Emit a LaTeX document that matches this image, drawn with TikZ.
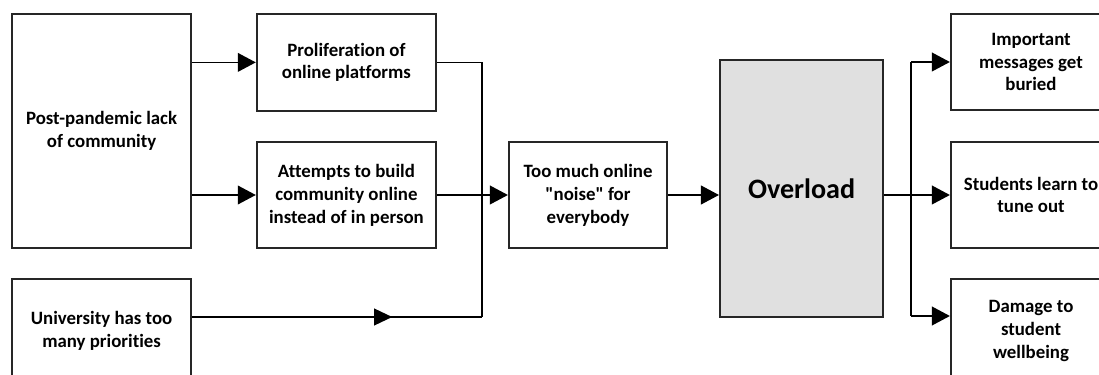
\documentclass[tikz,border=0pt]{standalone}
\usepackage{fontspec}
\setmainfont{Carlito}[Ligatures={TeXOff,CommonOff}]
\usetikzlibrary{arrows.meta,decorations.markings}

\begin{document}
\begin{tikzpicture}[
        box/.style={draw=black!85, line width=1.6pt, align=center, inner sep=2pt,
            font=\bfseries\fontsize{13.4}{16.3}\selectfont},
        arr/.style={line width=1pt, -{Triangle[length=0.45cm, width=0.47cm]}},
        wire/.style={line width=1pt},
        midarr/.style={line width=1pt, postaction={decorate},
            decoration={markings, mark=at position #1 with {\arrow{Triangle[length=0.45cm, width=0.42cm]}}}}
    ]
                \clip (0,0) rectangle (27.475,9.35);

                % Draw the cause boxes
                \node[box, minimum width=4.475cm, minimum height=5.85cm] (lack) at (2.54,6.075) {Post-pandemic lack\\of community};
                \node[box, minimum width=4.475cm, minimum height=2.6cm] (univ) at (2.54,1.075) {University has too\\many priorities};

                \node[box, minimum width=4.475cm, minimum height=2.425cm] (prolif) at (8.66,7.79) {Proliferation of\\online platforms};
                \node[box, minimum width=4.475cm, minimum height=2.65cm] (attempts) at (8.66,4.475) {Attempts to build\\community online\\instead of in person};

                % Draw the middle boxes
                \node[box, minimum width=3.95cm, minimum height=2.65cm] (noise) at (14.7,4.475) {Too much online\\"noise" for\\everybody};
                \node[box, fill=black!12, minimum width=4.075cm, minimum height=6.425cm,
                    font=\bfseries\fontsize{20}{24}\selectfont] (overload) at (20.04,4.6375) {Overload};

                % Draw the effect boxes
                \node[box, minimum width=4cm, minimum height=2.4cm] (buried) at (25.775,7.8) {Important\\messages get\\buried};
                \node[box, minimum width=4cm, minimum height=2.65cm] (tune) at (25.775,4.475) {Students learn to\\tune out};
                \node[box, minimum width=4cm, minimum height=2.6cm] (damage) at (25.775,1.075) {Damage to\\student\\wellbeing};

                % Joints of the connectors
                \coordinate (join) at (12.05,1.425);
                \coordinate (split) at (22.775,1.45);

                % Draw edges from the causes
                \draw[arr] (lack.east |- prolif) -- (prolif);
                \draw[arr] (lack.east |- attempts) -- (attempts);
                \draw[midarr=0.69] (univ.east |- join) -- (join);
                \draw[wire] (prolif.east) -| (join);

                % Draw edges into the overload
                \draw[arr] (attempts) -- (noise);
                \draw[arr] (noise) -- (noise -| overload.west);

                % Draw edges to the effects
                \draw[arr] (overload.east |- tune) -- (tune);
                \draw[wire] (split |- buried) -- (split);
                \draw[arr] (split |- buried) -- (buried);
                \draw[arr] (split) -- (split -| damage.west);
\end{tikzpicture}
\end{document}
